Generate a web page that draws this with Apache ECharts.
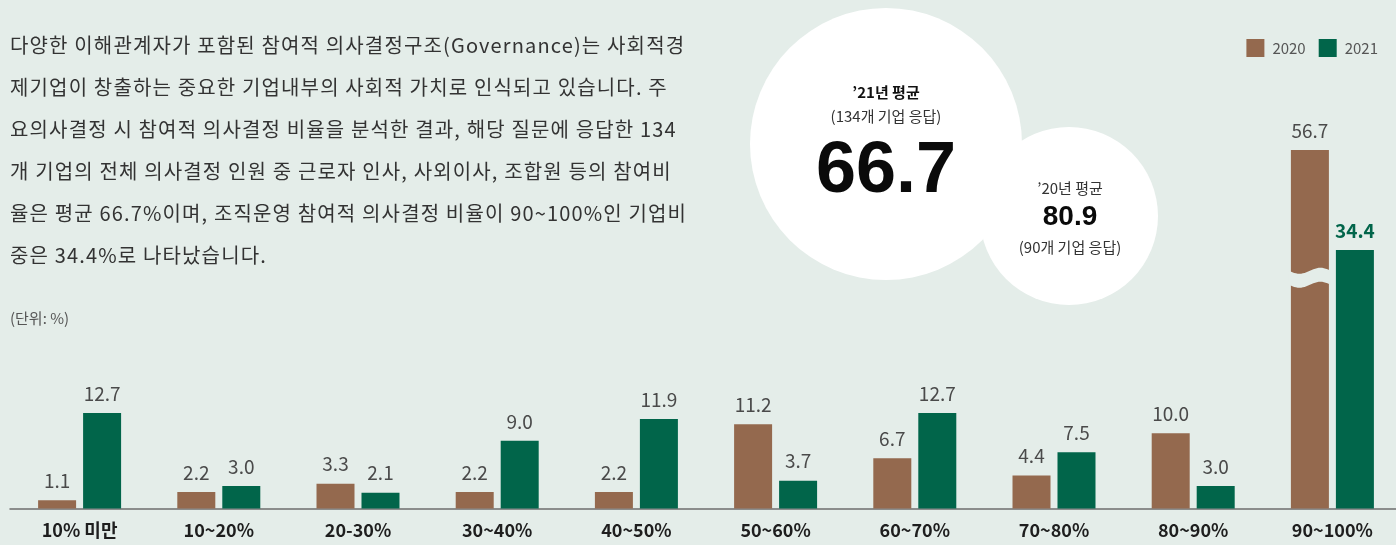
<!DOCTYPE html>
<html>
<head>
<meta charset="utf-8">
<script src="https://cdn.jsdelivr.net/npm/echarts@6/dist/echarts.min.js"></script>
<style>
  html, body { margin: 0; padding: 0; background: #e4ede9; }
  #wrap { position: relative; width: 1396px; height: 545px; }
  #chart { width: 1396px; height: 545px; }
  #para {
    position: absolute; left: 10px; top: 24px; margin: 0;
    font-family: 'Noto Sans CJK KR', 'Noto Sans', sans-serif;
    font-size: 20px; line-height: 42px; letter-spacing: 1.15px;
    color: #333; white-space: pre; pointer-events: none;
  }
</style>
</head>
<body>
<div id="wrap">
  <div id="chart"></div>
  <div id="para"></div>
</div>
<script>
// 의사결정 참여 비율 구간별 기업 비중 (단위: %)
var categories = ['10% 미만', '10~20%', '20-30%', '30~40%', '40~50%', '50~60%', '60~70%', '70~80%', '80~90%', '90~100%'];
var years = ['2020', '2021'];
var values2020 = [1.1, 2.2, 3.3, 2.2, 2.2, 11.2, 6.7, 4.4, 10.0, 56.7];
var values2021 = [12.7, 3.0, 2.1, 9.0, 11.9, 3.7, 12.7, 7.5, 3.0, 34.4];
var avg2021 = '66.7';
var avg2020 = '80.9';
var paragraph = [
  '다양한 이해관계자가 포함된 참여적 의사결정구조(Governance)는 사회적경',
  '제기업이 창출하는 중요한 기업내부의 사회적 가치로 인식되고 있습니다. 주',
  '요의사결정 시 참여적 의사결정 비율을 분석한 결과, 해당 질문에 응답한 134',
  '개 기업의 전체 의사결정 인원 중 근로자 인사, 사외이사, 조합원 등의 참여비',
  '율은 평균 66.7%이며, 조직운영 참여적 의사결정 비율이 90~100%인 기업비',
  '중은 34.4%로 나타났습니다.'
];

var BG = '#e4ede9';
var BROWN = '#94694e';
var GREEN = '#01654a';
var FONT = "'Noto Sans CJK KR', 'Noto Sans', sans-serif";
var breakValue = 30.7; // 물결 끊김 표시 위치 (축 값)

document.getElementById('para').textContent = paragraph.join('\n');

var chart = echarts.init(document.getElementById('chart'));

function fmt(p) { return Number(p.value).toFixed(1); }

var data2021 = values2021.map(function (v, i) {
  if (i === values2021.length - 1) {
    return { value: v, label: { color: GREEN, fontWeight: 'bold', fontSize: 19 } };
  }
  return v;
});

var option = {
  backgroundColor: BG,
  animation: false,
  textStyle: { fontFamily: FONT },
  legend: {
    top: 34,
    right: 13,
    itemWidth: 18,
    itemHeight: 18,
    itemGap: 13,
    icon: 'rect',
    data: years,
    textStyle: { fontSize: 15, color: '#555', fontFamily: FONT, padding: [0, 0, 0, 3] }
  },
  grid: { left: 10, width: 1392, top: 150, bottom: 36.5, containLabel: false, outerBoundsMode: 'none' },
  xAxis: {
    type: 'category',
    data: categories,
    axisLine: { lineStyle: { color: '#6e6e6e', width: 1.5 } },
    axisTick: { show: false },
    axisLabel: { margin: 13, fontSize: 18, fontWeight: 'bold', color: '#1e1e1e', fontFamily: FONT }
  },
  yAxis: {
    type: 'value',
    min: 0,
    max: 47.7,
    show: false,
    splitLine: { show: false }
  },
  series: [
    {
      name: years[0],
      type: 'bar',
      data: values2020,
      barWidth: 38,
      barGap: '18.4%',
      itemStyle: { color: BROWN },
      label: { show: true, position: 'top', distance: 10, fontSize: 19, color: '#4a4a4a', formatter: fmt, fontFamily: FONT }
    },
    {
      name: years[1],
      type: 'bar',
      data: data2021,
      barWidth: 38,
      itemStyle: { color: GREEN },
      label: { show: true, position: 'top', distance: 10, fontSize: 19, color: '#4a4a4a', formatter: fmt, fontFamily: FONT }
    }
  ],
  graphic: []
};

chart.setOption(option);

// 원형 평균 박스, 90~100% 막대 끊김 표시
function drawExtras() {
  var last = categories.length - 1;
  var p = chart.convertToPixel({ gridIndex: 0 }, [last, breakValue]);
  var cx = p[0] - 22.5;
  var x0 = cx - 21, x1 = cx + 21;
  var top = [], bottom = [];
  var n = 24;
  for (var i = 0; i <= n; i++) {
    var t = i / n;
    var x = x0 + (x1 - x0) * t;
    var dy = 3 * Math.sin(2 * Math.PI * t);
    top.push([x, p[1] - 7 + dy]);
    bottom.unshift([x, p[1] + 7 + dy]);
  }
  var wave = { type: 'polygon', shape: { points: top.concat(bottom) }, style: { fill: BG }, z: 100 };

  var graphics = [
    {
      type: 'text', left: 10, top: 311,
      style: { text: '(단위: %)', font: '15px ' + FONT, fill: '#555' }
    },
    { type: 'circle', shape: { cx: 1069, cy: 216, r: 89 }, style: { fill: '#fff' }, z: 1 },
    { type: 'circle', shape: { cx: 886, cy: 144, r: 136 }, style: { fill: '#fff' }, z: 2 },
    {
      type: 'text', x: 886, y: 92, z: 3,
      style: { text: '\u201921년 평균', font: 'bold 15px ' + FONT, fill: '#111', align: 'center', verticalAlign: 'middle' }
    },
    {
      type: 'text', x: 886, y: 116, z: 3,
      style: { text: '(134개 기업 응답)', font: '15px ' + FONT, fill: '#333', align: 'center', verticalAlign: 'middle' }
    },
    {
      type: 'text', x: 886, y: 172, z: 3,
      style: { text: avg2021, font: 'bold 72px "Liberation Sans", Arial, sans-serif', fill: '#0a0a0a', align: 'center', verticalAlign: 'middle' }
    },
    {
      type: 'text', x: 1070, y: 188, z: 3,
      style: { text: '\u201920년 평균', font: '15px ' + FONT, fill: '#333', align: 'center', verticalAlign: 'middle' }
    },
    {
      type: 'text', x: 1070, y: 217, z: 3,
      style: { text: avg2020, font: 'bold 28px "Liberation Sans", Arial, sans-serif', fill: '#0a0a0a', align: 'center', verticalAlign: 'middle' }
    },
    {
      type: 'text', x: 1070, y: 247, z: 3,
      style: { text: '(90개 기업 응답)', font: '15px ' + FONT, fill: '#333', align: 'center', verticalAlign: 'middle' }
    },
    wave
  ];
  chart.setOption({ graphic: graphics });
}

drawExtras();
</script>
</body>
</html>
